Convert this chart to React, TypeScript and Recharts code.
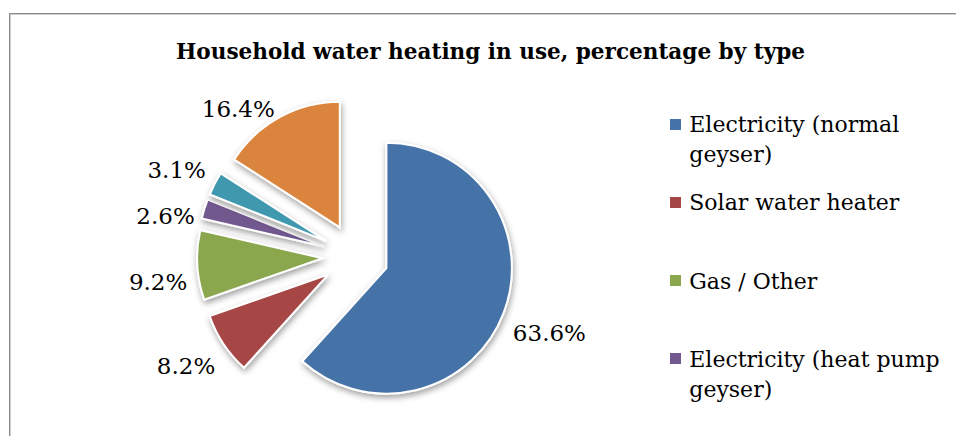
import React from 'react';
import { PieChart, Pie, Legend, Sector } from 'recharts';

// Household water heating types and their share (%)
const categories = [
  'Electricity (normal geyser)',
  'Solar water heater',
  'Gas / Other',
  'Electricity (heat pump geyser)',
  'Paraffin / Wood / Coal',
  'None',
];
const shares = [63.6, 8.2, 9.2, 2.6, 3.1, 16.4];
const colors = ['#4573a7', '#a64644', '#8aa74e', '#71598f', '#4198af', '#db843d'];
// the legend box only has room for the first four entries
const legendCount = 4;

const data = categories.map((name, i) => ({ name, value: shares[i] }));

const RAD = Math.PI / 180;
const W = 956;
const H = 436;
const FONT = '"DejaVu Serif", serif';
const PIE_CX = 355.6;
const PIE_CY = 256.3;
const PIE_R = 125.5;
const EXPLODE = 33; // px each slice is pulled away from the centre
const LABEL_GAP = 10;
const LABEL_MIN_SPACING = 46;

// Where a value label sits for a slice with the given mid-angle (degrees, counter-clockwise from 3 o'clock).
function labelSpot(cx: number, cy: number, r: number, midAngle: number) {
  const dx = Math.cos(-midAngle * RAD);
  const dy = Math.sin(-midAngle * RAD);
  const ax = cx + dx * (EXPLODE + r + LABEL_GAP);
  const ay = cy + dy * (EXPLODE + r + LABEL_GAP);
  return { x: ax, midY: ay + (dy > 0 ? 8 : -8) + 8, left: dx < 0 };
}

// Vertical nudges so that neighbouring labels on the same side do not crowd each other.
const labelNudge: number[] = (() => {
  const total = shares.reduce((a, b) => a + b, 0);
  let acc = 0;
  const spots = shares.map((v, i) => {
    const start = 90 - (acc / total) * 360;
    acc += v;
    const end = 90 - (acc / total) * 360;
    return { i, ...labelSpot(PIE_CX, PIE_CY, PIE_R, (start + end) / 2) };
  });
  const nudge = shares.map(() => 0);
  [true, false].forEach((side) => {
    const list = spots.filter((s) => s.left === side).sort((a, b) => a.midY - b.midY);
    for (let k = 1; k < list.length; k += 1) {
      const a = list[k - 1];
      const b = list[k];
      const gap = b.midY + nudge[b.i] - (a.midY + nudge[a.i]);
      if (gap < LABEL_MIN_SPACING) {
        const push = (LABEL_MIN_SPACING - gap) / 2;
        nudge[a.i] -= push;
        nudge[b.i] += push;
      }
    }
  });
  return nudge;
})();

// Each slice is drawn pulled out along its mid-angle, with its value label outside.
function ExplodedSlice(props: any) {
  const { cx, cy, startAngle, endAngle, midAngle, outerRadius, index } = props;
  const dx = Math.cos(-midAngle * RAD);
  const dy = Math.sin(-midAngle * RAD);
  const ex = cx + dx * EXPLODE;
  const ey = cy + dy * EXPLODE;
  const spot = labelSpot(cx, cy, outerRadius, midAngle);
  const midY = spot.midY + labelNudge[index];
  return (
    <g>
      <defs>
        <filter id={`sliceShadow${index}`} x="-30%" y="-30%" width="160%" height="160%">
          <feDropShadow dx="1" dy="3" stdDeviation="3" floodColor="#000" floodOpacity="0.38" />
        </filter>
      </defs>
      <Sector
        cx={ex}
        cy={ey}
        innerRadius={0}
        outerRadius={outerRadius}
        startAngle={startAngle}
        endAngle={endAngle}
        fill={colors[index]}
        fillOpacity={1}
        stroke="#ffffff"
        strokeWidth={2}
        filter={`url(#sliceShadow${index})`}
      />
      <text
        x={spot.x}
        y={midY + 8.5}
        textAnchor={spot.left ? 'end' : 'start'}
        fontFamily={FONT}
        fontSize={23}
        fill="#000"
      >
        {`${shares[index].toFixed(1)}%`}
      </text>
    </g>
  );
}

function LegendBlock() {
  return (
    <div
      style={{
        position: 'relative',
        width: 286,
        height: 320,
        fontFamily: FONT,
        fontSize: 22,
        lineHeight: '30px',
        color: '#000',
      }}
    >
      {categories.slice(0, legendCount).map((name, i) => (
        <div key={name} style={{ position: 'absolute', left: 0, top: i * 78.3, width: 286 }}>
          <span
            style={{
              position: 'absolute',
              left: 0,
              top: 8.5,
              width: 11,
              height: 11,
              background: colors[i],
            }}
          />
          <div style={{ marginLeft: 19.3, width: 262 }}>{name}</div>
        </div>
      ))}
    </div>
  );
}

export default function App() {
  return (
    <div style={{ position: 'absolute', left: 0, top: 0, width: W, height: H, background: '#fff', overflow: 'hidden' }}>
      <div
        style={{
          position: 'absolute',
          left: 9,
          top: 13,
          width: W,
          height: H,
          borderLeft: '1px solid #8a8a8a',
          borderTop: '1px solid #8a8a8a',
          boxShadow: 'inset 1px 1px 0 #cfcfcf',
        }}
      />
      <div style={{ position: 'absolute', left: 0, top: 0 }}>
        <PieChart width={W} height={H} margin={{ top: 0, right: 0, bottom: 0, left: 0 }}>
          <text
            x={490.5}
            y={59}
            textAnchor="middle"
            fontFamily={FONT}
            fontWeight="bold"
            fontSize={22}
            textLength={629}
            lengthAdjust="spacingAndGlyphs"
            fill="#000"
          >
            Household water heating in use, percentage by type
          </text>
          <Pie
            data={data}
            dataKey="value"
            nameKey="name"
            cx={PIE_CX}
            cy={PIE_CY}
            innerRadius={0}
            outerRadius={PIE_R}
            startAngle={90}
            endAngle={-270}
            fill="transparent"
            stroke="none"
            label={ExplodedSlice}
            labelLine={false}
            isAnimationActive={false}
          />
          <Legend
            layout="vertical"
            align="right"
            verticalAlign="top"
            wrapperStyle={{ left: 670, top: 110, width: 286 }}
            content={() => <LegendBlock />}
          />
        </PieChart>
      </div>
    </div>
  );
}
